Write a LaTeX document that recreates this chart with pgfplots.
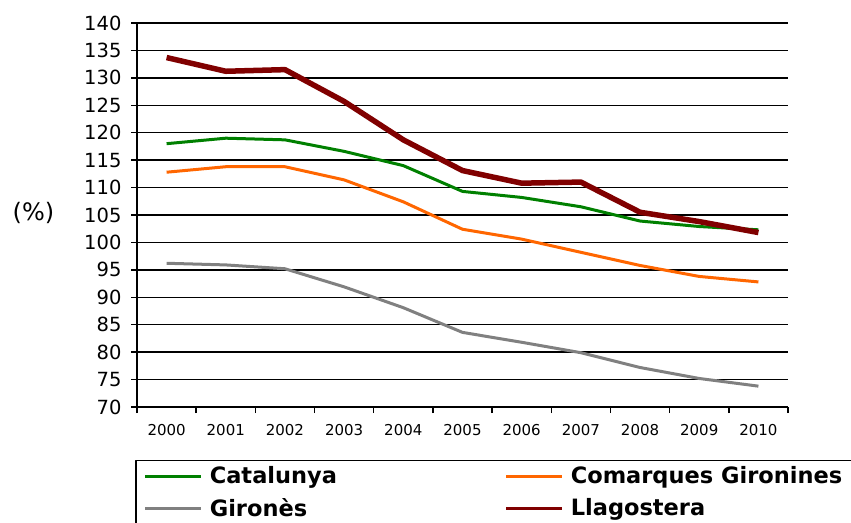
\documentclass[border=0pt]{standalone}
\usepackage{fontspec}
\setmainfont{DejaVu Sans}
\usepackage{pgfplots}
\pgfplotsset{compat=1.18}
\definecolor{cgreen}{RGB}{0,128,0}
\definecolor{corange}{RGB}{255,102,0}
\definecolor{cgray}{RGB}{128,128,128}
\definecolor{cred}{RGB}{128,0,0}
\begin{document}
\begin{tikzpicture}[x=1pt,y=1pt]
\path[use as bounding box] (0,0) rectangle (851,522);
\begin{axis}[
  at={(137pt,115pt)}, anchor=south west,
  scale only axis, width=651pt, height=384pt,
  clip=false,
  xmin=-0.5, xmax=10.5, ymin=70, ymax=140,
  axis x line*=bottom, axis y line*=left,
  axis line style={line width=1.4pt, black, -},
  xtick={0,...,10},
  xticklabels={2000,2001,2002,2003,2004,2005,2006,2007,2008,2009,2010},
  major x tick style={draw=none},
  minor xtick={-0.5,0.5,...,10.5},
  ytick={70,75,...,140},
  tick align=outside,
  major tick length=6pt, minor tick length=6pt,
  ymajorgrids, grid style={black, line width=1.5pt},
  tick style={black, line width=1.4pt},
  xticklabel style={font=\fontsize{15}{15}\selectfont, yshift=-8pt},
  yticklabel style={font=\fontsize{19.5}{20}\selectfont, xshift=-6pt},
  /pgf/number format/assume math mode=true,
  legend columns=2,
  legend cell align=left,
  legend image code/.code={\draw[#1, line width=3pt] (0pt,0pt) -- (56pt,0pt);},
  legend style={at={(axis description cs:-0.003,-0.138)}, anchor=north west,
    draw=black, line width=1.5pt,
    font=\bfseries\fontsize{22.5}{24}\selectfont,
    inner xsep=8pt, inner ysep=6pt, row sep=13pt,
    nodes={inner sep=0pt},
    /tikz/every odd column/.append style={column sep=7pt},
    /tikz/every even column/.append style={column sep=0pt}},
  line join=round,
]
\addplot[color=cgreen, line width=3pt] coordinates {
(0,118.0) (1,119.0) (2,118.7) (3,116.6) (4,114.0) (5,109.3) (6,108.2) (7,106.5) (8,103.9) (9,102.9) (10,102.3)};
\addlegendentry{\makebox[295pt][l]{Catalunya}}
\addplot[color=corange, line width=3pt] coordinates {
(0,112.8) (1,113.8) (2,113.8) (3,111.4) (4,107.4) (5,102.4) (6,100.6) (7,98.2) (8,95.8) (9,93.8) (10,92.8)};
\addlegendentry{\makebox[300pt][l]{Comarques Gironines}}
\addplot[color=cgray, line width=3pt] coordinates {
(0,96.2) (1,95.9) (2,95.2) (3,91.9) (4,88.1) (5,83.6) (6,81.8) (7,79.9) (8,77.2) (9,75.2) (10,73.8)};
\addlegendentry{\makebox[295pt][l]{Gironès}}
\addplot[color=cred, line width=5.5pt] coordinates {
(0,133.7) (1,131.2) (2,131.5) (3,125.7) (4,118.7) (5,113.1) (6,110.8) (7,111.0) (8,105.5) (9,103.8) (10,101.8)};
\addlegendentry{\makebox[300pt][l]{Llagostera}}
\node[font=\fontsize{24}{26}\selectfont] at (axis description cs:-0.159,0.505) {(\%)};
\end{axis}
\end{tikzpicture}
\end{document}
